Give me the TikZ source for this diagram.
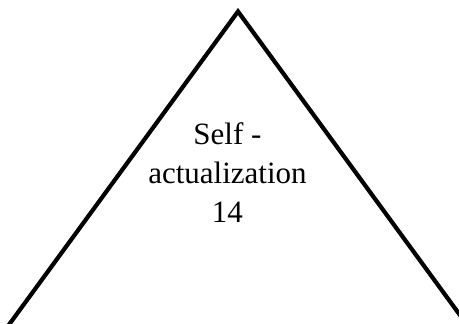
\documentclass[tikz,border=0pt]{standalone}
\usepackage{fontspec}
\setmainfont{Liberation Serif}
\usepackage{tikz}
\usetikzlibrary{positioning}

\begin{document}
\begin{tikzpicture}[
    x=1pt, y=-1pt,
    side/.style={line width=4.2pt, line join=miter, draw=black},
    level/.style={align=center, font=\fontsize{31}{39}\selectfont, inner sep=0pt}
]
\useasboundingbox (0,0) rectangle (459,324);
\coordinate (apex)  at (238,11.5);
\coordinate (left)  at (4.4,331);
\coordinate (right) at (471.6,331);

\begin{scope}
\clip (0,0) rectangle (459,324);
\draw[side] (left) -- (apex) -- (right);
\end{scope}

\node[level] (self) at (227.5,173) {Self -\\actualization\\14};
\end{tikzpicture}
\end{document}
